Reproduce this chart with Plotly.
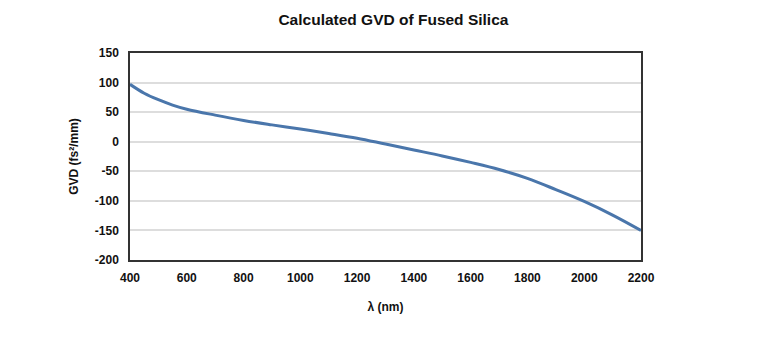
import plotly.graph_objects as go

wavelength_nm = [400, 450, 500, 550, 600, 700, 800, 900, 1000, 1100, 1200, 1300, 1400,
                 1500, 1600, 1700, 1800, 1900, 2000, 2100, 2200]
gvd_fs2_per_mm = [97, 82, 71, 62, 55, 45, 36, 28.5, 21.5, 14, 6, -4, -14,
                  -24, -35, -47, -62, -81, -101, -124, -150]

x_ticks = [400, 600, 800, 1000, 1200, 1400, 1600, 1800, 2000, 2200]
y_ticks = [-200, -150, -100, -50, 0, 50, 100, 150]

FONT = "Liberation Sans, Arial, sans-serif"
INK = "#111111"

fig = go.Figure()
fig.add_trace(go.Scatter(
    x=wavelength_nm, y=gvd_fs2_per_mm, mode="lines",
    line=dict(color="#4a76ab", width=3, shape="spline", smoothing=1.0),
    showlegend=False, hoverinfo="x+y",
))

fig.update_layout(
    width=759, height=360,
    margin=dict(l=122, r=126, t=45, b=108),
    paper_bgcolor="white", plot_bgcolor="white",
    title=dict(text="Calculated GVD of Fused Silica", x=0.5078, xanchor="center",
               y=0.967, yanchor="middle",
               font=dict(family=FONT, size=15.5, color=INK, weight="bold")),
    font=dict(family=FONT, size=12, color=INK, weight="bold"),
)
fig.update_xaxes(
    range=[400, 2200], tickvals=x_ticks, ticktext=[str(v) for v in x_ticks],
    showgrid=False, zeroline=False,
    showline=True, linecolor="#333333", linewidth=1.5, mirror=True,
    ticks="", ticklen=0, ticklabelstandoff=6,
    title=dict(text="λ (nm)", standoff=18, font=dict(family=FONT, size=12, color=INK, weight="bold")),
    tickfont=dict(family=FONT, size=12, color=INK, weight="bold"),
)
fig.update_yaxes(
    range=[-200, 150], tickvals=y_ticks, ticktext=[str(v) for v in y_ticks],
    showgrid=True, gridcolor="#dddddd", gridwidth=1.5, zeroline=False,
    showline=True, linecolor="#333333", linewidth=1.5, mirror=True,
    ticks="", ticklen=0, ticklabelstandoff=7,
    title=dict(text="GVD (fs²/mm)", standoff=14, font=dict(family=FONT, size=12, color=INK, weight="bold")),
    tickfont=dict(family=FONT, size=12, color=INK, weight="bold"),
)

fig.write_html("out.html")
